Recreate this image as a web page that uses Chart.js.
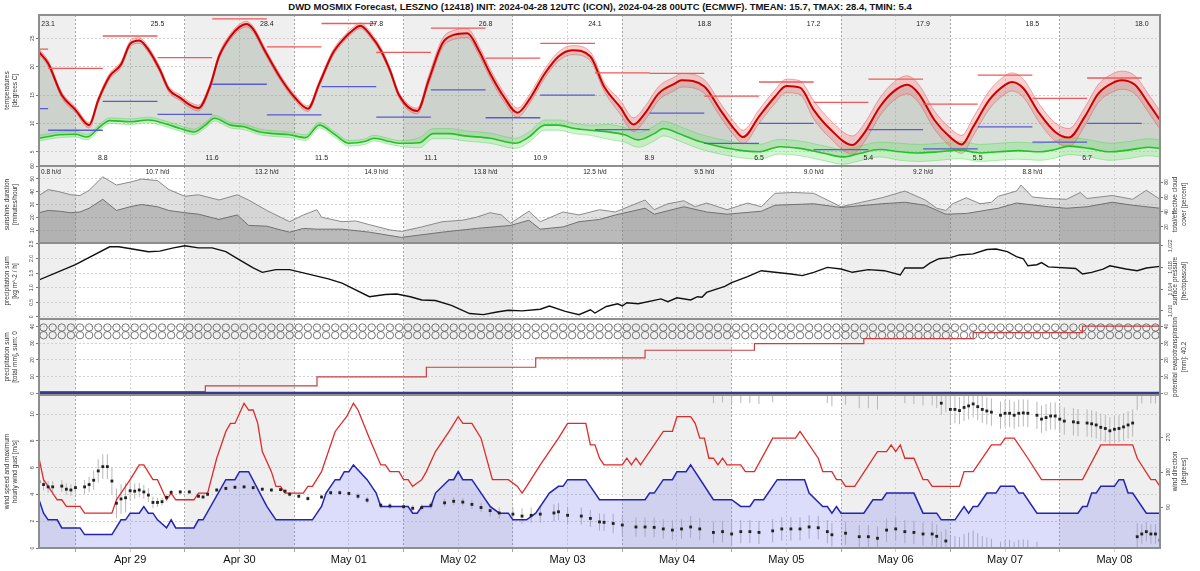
<!DOCTYPE html>
<html>
<head>
<meta charset="utf-8">
<title>DWD MOSMIX Forecast LESZNO</title>
<script src="https://cdn.jsdelivr.net/npm/chart.js@4.4.1/dist/chart.umd.min.js"></script>
<style>
  html, body { margin: 0; padding: 0; background: #fff; }
  #page { position: relative; width: 1200px; height: 571px; overflow: hidden; }
  #title { position: absolute; left: 0; top: 1px; width: 1200px; text-align: center;
           font: bold 9.5px "Liberation Sans", Arial, sans-serif; line-height: 11px; color: #111; }
  canvas { position: absolute; left: 0; }
</style>
</head>
<body>
<div id="page">
  <div id="title">DWD MOSMIX Forecast, LESZNO (12418) INIT: 2024-04-28 12UTC (ICON), 2024-04-28 00UTC (ECMWF). TMEAN: 15.7, TMAX: 28.4, TMIN: 5.4</div>
  <canvas id="tempChart"></canvas>
  <canvas id="cloudChart"></canvas>
  <canvas id="pressChart"></canvas>
  <canvas id="precipChart"></canvas>
  <canvas id="windChart"></canvas>
</div>
<script>
// time axis in hours since 2024-04-28 00:00
const xMin = 16, xMax = 262;
const xTickHours = [24, 36, 48, 60, 72, 84, 96, 108, 120, 132, 144, 156, 168, 180, 192, 204, 216, 228, 240, 252];
const dayLabels = ["Apr 29", "Apr 30", "May 01", "May 02", "May 03", "May 04", "May 05", "May 06", "May 07", "May 08"];
const grayDays = [0, 2, 4, 6, 8, 10];

// temperature (median of ensemble) and spread
const tempHours = [16, 18, 21, 24, 27, 29, 31.5, 34, 36, 38, 40, 42.5, 44.5, 47, 49, 51, 53.5, 55.5, 58, 60, 61.5, 63, 65.5, 69, 72, 75, 77.5, 80.5, 83, 85, 86.5, 89, 91, 93, 95, 99, 101.5, 104.5, 107, 110, 112.5, 115, 118, 121, 123.5, 127, 130, 133, 137, 140, 143.5, 146.5, 149, 152, 155.5, 157, 162, 165.5, 168.5, 170.5, 174, 177.5, 180, 183, 186, 189.5, 194.5, 197, 200.5, 203.5, 206.5, 209, 212.5, 215.5, 218.5, 221, 224.5, 228, 229.5, 232, 235.5, 239, 242, 245.5, 248.5, 252, 253.5, 256.5, 259.5, 262];
const tempMedian = [22.6, 20.6, 15.0, 12.4, 9.7, 14.1, 18.3, 20.4, 24.0, 24.6, 23.0, 19.5, 16.0, 14.5, 13.3, 12.7, 16.5, 21.8, 25.3, 27.0, 27.5, 26.6, 22.9, 18.0, 14.7, 12.6, 17.0, 22.4, 25.0, 26.5, 27.2, 25.3, 22.9, 19.4, 15.0, 12.2, 17.6, 24.1, 25.6, 25.9, 22.9, 18.8, 14.7, 11.9, 14.1, 18.8, 21.8, 22.9, 21.8, 16.5, 12.9, 9.8, 11.8, 15.3, 17.0, 17.6, 16.5, 12.4, 9.1, 7.6, 11.2, 14.7, 16.6, 16.3, 12.4, 9.1, 6.2, 8.2, 12.9, 15.6, 16.8, 15.3, 10.6, 7.9, 6.3, 9.4, 14.1, 16.8, 17.3, 16.2, 11.8, 8.5, 7.5, 11.2, 15.3, 17.3, 17.6, 16.8, 13.5, 10.6];
const tempSpread = [0.5, 0.5, 0.5, 0.5, 0.5, 0.5, 0.5, 0.5, 0.5, 0.5, 0.5, 0.5, 0.5, 0.5, 0.5, 0.5, 0.5, 0.5, 0.5, 0.5, 0.5, 0.5, 0.5, 0.5, 0.5, 0.5, 0.5, 0.5, 0.5, 0.5, 0.5, 0.5, 0.5, 0.5, 0.5, 0.5, 0.8, 0.8, 0.8, 0.8, 0.8, 0.8, 0.8, 0.8, 0.8, 0.8, 0.8, 0.8, 0.8, 0.8, 1.2, 1.2, 1.2, 1.2, 1.2, 1.2, 1.2, 1.2, 1.2, 1.2, 1.2, 1.2, 1.2, 1.2, 1.6, 1.6, 1.6, 1.6, 1.6, 1.6, 1.6, 1.6, 1.6, 1.6, 1.6, 1.6, 1.6, 1.6, 1.6, 1.6, 1.6, 1.6, 1.6, 1.6, 1.6, 1.6, 1.6, 1.6, 1.6, 1.6];

// dew point
const dewHours = [16, 20.5, 24, 26.5, 29.5, 31.5, 36, 40, 43.5, 47, 50, 52.5, 54.5, 58, 61, 64.5, 67.5, 71, 74.5, 77.5, 81, 84, 87.5, 89.5, 93, 95, 99.5, 102.5, 106, 109.5, 115, 120.5, 123.5, 127, 130, 133.5, 137, 141, 144.5, 147.5, 151, 153, 156.5, 161, 165.5, 169.5, 174, 178.5, 183, 188.5, 192.5, 196, 200.5, 205, 209, 213.5, 218, 222.5, 226.5, 231, 235.5, 239, 242, 246.5, 251, 255, 259.5, 262];
const dewMedian = [7.4, 8.0, 8.1, 7.6, 9.5, 10.5, 10.3, 10.6, 10.0, 9.1, 8.5, 9.7, 10.9, 9.7, 9.4, 8.5, 8.2, 8.0, 7.5, 9.7, 8.0, 6.5, 6.8, 7.4, 6.8, 6.5, 6.6, 8.2, 8.2, 7.8, 7.4, 6.5, 7.6, 9.7, 9.7, 9.1, 8.8, 8.5, 8.0, 7.1, 8.2, 9.1, 8.2, 6.8, 5.9, 5.3, 5.0, 5.9, 5.6, 4.7, 4.1, 4.7, 5.4, 5.0, 4.8, 5.0, 5.3, 4.8, 5.0, 5.2, 5.0, 5.4, 6.0, 5.6, 5.0, 5.3, 5.8, 5.6];
const dewSpread = [0.5, 0.5, 0.5, 0.5, 0.5, 0.5, 0.5, 0.5, 0.5, 0.5, 0.5, 0.5, 0.5, 0.5, 0.5, 0.5, 0.5, 0.5, 0.5, 0.5, 0.5, 0.5, 0.5, 0.5, 0.5, 0.5, 0.9, 0.9, 0.9, 0.9, 0.9, 0.9, 0.9, 0.9, 0.9, 0.9, 0.9, 1.3, 1.3, 1.3, 1.3, 1.3, 1.3, 1.3, 1.3, 1.3, 1.3, 1.3, 1.3, 1.3, 1.3, 1.3, 1.3, 1.5, 1.5, 1.5, 1.5, 1.5, 1.5, 1.5, 1.5, 1.5, 1.5, 1.5, 1.5, 1.5, 1.5, 1.5];

// 12-hourly max / min segments
const segBounds = [16, 18, 30, 42, 54, 66, 78, 90, 102, 114, 126, 138, 150, 162, 174, 186, 198, 210, 222, 234, 246, 258];
const maxSeg = [23.1, 19.7, 25.4, 21.6, 28.4, 23.5, 27.6, 22.5, 26.8, 21.5, 24.1, 18.9, 18.8, 14.8, 17.3, 13.7, 17.8, 13.4, 18.5, 14.4, 18.0];
const minSeg = [12.6, 8.8, 13.9, 11.6, 16.9, 11.5, 16.5, 11.1, 15.9, 11.0, 15.0, 8.9, 11.8, 6.5, 10.0, 5.4, 8.9, 5.5, 9.4, 6.7, 10.0];

// daily numbers printed in the panels
const maxLabelHours = [18, 42, 66, 90, 114, 138, 162, 186, 210, 234, 258];
const dailyMax = [23.1, 25.5, 28.4, 27.8, 26.8, 24.1, 18.8, 17.2, 17.9, 18.5, 18.0];
const minLabelHours = [30, 54, 78, 102, 126, 150, 174, 198, 222, 246];
const dailyMin = [8.8, 11.6, 11.5, 11.1, 10.9, 8.9, 6.5, 5.4, 5.5, 6.7];
const sunLabelHours = [18, 42, 66, 90, 114, 138, 162, 186, 210, 234];
const dailySunshine = [0.8, 10.7, 13.2, 14.9, 13.8, 12.5, 9.5, 9.0, 9.2, 8.8];

// cloud cover (percent)
const cloudTotalHours = [16, 18, 20.5, 23, 25, 27, 30, 33, 36, 38.5, 42, 44.5, 48, 51, 55.5, 59.5, 62, 66, 69, 71, 74, 77, 78, 82.5, 85.5, 88.5, 93, 95.5, 100, 104.5, 109, 112, 115, 117.5, 119.5, 123.5, 126, 131, 134.5, 139, 142.5, 149, 151, 154, 157.5, 160, 162.5, 167, 171.5, 174.5, 177.5, 181.5, 186, 192, 196.5, 201, 206, 210.5, 213, 215, 216.5, 219.5, 222.5, 225, 226.5, 230.5, 231.5, 234, 237.5, 241.5, 244.5, 246, 251.5, 256, 259, 262];
const cloudTotal = [62, 70, 67, 63, 62, 69, 87, 76, 80, 84, 82, 70, 61, 63, 56, 63, 56, 42, 33, 27, 36, 43, 33, 27, 28, 23, 16, 14, 20, 27, 29, 33, 39, 36, 25, 41, 27, 40, 36, 43, 40, 56, 43, 51, 55, 47, 52, 43, 52, 47, 65, 66, 65, 47, 53, 59, 68, 56, 45, 42, 51, 59, 51, 53, 61, 68, 76, 60, 58, 57, 66, 58, 62, 57, 69, 57];
const cloudEffHours = [16, 18, 20.5, 23, 25, 27, 30, 33, 36, 38.5, 42, 44.5, 48, 51, 55.5, 59.5, 62, 66, 69, 71, 74, 77, 82.5, 88.5, 95.5, 104.5, 112, 119.5, 123.5, 126, 131, 134.5, 139, 142.5, 149, 151, 157.5, 162.5, 167, 174.5, 177.5, 186, 192, 201, 206, 210.5, 215, 219.5, 226.5, 230.5, 237.5, 241.5, 246, 251.5, 256, 262];
const cloudEff = [39, 42, 41, 39, 40, 45, 57, 42, 47, 50, 47, 42, 39, 37, 30, 36, 22, 21, 16, 13, 18, 17, 17, 13, 6, 13, 18, 22, 29, 17, 20, 27, 30, 36, 45, 37, 47, 40, 37, 41, 49, 51, 46, 51, 53, 49, 37, 38, 45, 52, 47, 45, 47, 53, 49, 45];

// surface pressure (hPa)
const pressHours = [16, 24, 31.5, 33.5, 36.5, 40, 42.5, 45.5, 48, 51, 54, 57, 60, 63, 65, 68, 71, 74, 79.5, 82.5, 88.5, 92, 94.5, 97.5, 100, 103, 106.5, 110.5, 113.5, 116.5, 119, 122, 126, 128, 131.5, 134.5, 137, 138, 140.5, 143, 144, 145, 147.5, 152.5, 154, 156, 159, 160.5, 161.5, 162.5, 166.5, 168, 171.5, 174.5, 177.5, 181, 183.5, 186, 189, 192, 194.5, 198, 201.5, 205, 206, 210, 211.5, 213.5, 216, 218, 221, 224, 226, 228.5, 230.5, 232, 233, 235, 236, 237.5, 243.5, 245, 247, 249.5, 251, 254.5, 257, 259, 262];
const pressure = [1015.7, 1018.5, 1021.8, 1021.8, 1021.4, 1020.9, 1021.0, 1021.6, 1022.0, 1021.6, 1021.6, 1020.9, 1019.4, 1017.9, 1017.1, 1017.6, 1017.6, 1017.0, 1015.9, 1015.1, 1012.6, 1013.0, 1013.1, 1012.6, 1012.0, 1011.9, 1011.0, 1009.5, 1009.3, 1009.8, 1010.1, 1010.0, 1010.3, 1010.9, 1009.9, 1009.3, 1010.2, 1009.6, 1010.8, 1011.3, 1010.9, 1011.5, 1011.3, 1012.2, 1011.7, 1012.4, 1012.0, 1012.6, 1012.5, 1013.4, 1014.5, 1015.2, 1016.3, 1017.4, 1017.1, 1016.8, 1016.5, 1017.1, 1018.0, 1017.7, 1017.1, 1017.6, 1017.4, 1016.6, 1017.9, 1017.9, 1018.8, 1019.6, 1019.8, 1020.3, 1020.5, 1021.3, 1021.4, 1020.9, 1020.0, 1019.6, 1018.3, 1018.5, 1018.9, 1018.1, 1017.8, 1016.8, 1017.1, 1017.7, 1018.3, 1017.7, 1017.4, 1017.9, 1018.2];

// precipitation sum and potential evapotranspiration (mm)
const precipHours = [16, 262];
const precipSum = [0, 0];
const evapHours = [16, 52.5, 77, 101, 125, 149, 173, 197, 221, 245, 262];
const evapSum = [1, 4.5, 9.8, 15.6, 21.2, 25.8, 29.8, 32.8, 36.4, 40.2, 40.2];
const symbolRows = [39.4, 34.8];

// wind speed and gusts (m/s)
const speedHours = [16, 17, 18, 20, 21, 25, 26, 32, 34, 35, 36, 38, 39, 40, 41, 42, 44, 45, 46, 50, 51, 52, 57, 59, 60, 62, 66, 68, 76, 78, 79, 81, 82, 83, 84, 85, 88, 90, 91, 97, 98, 99, 100, 102, 103, 106, 107, 108, 109, 111, 115, 117, 119, 120, 123, 125, 128, 130, 131, 132, 136, 139, 149, 150, 151, 153, 155, 156, 158, 159, 164, 168, 170, 172, 173, 175, 178, 184, 185, 188, 189, 190, 191, 192, 197, 199, 201, 202, 208, 210, 213, 214, 217, 219, 220, 221, 222, 224, 226, 227, 230, 231, 232, 235, 244, 245, 246, 247, 248, 249, 252, 253, 254, 255, 256, 259, 262];
const speed = [3.6, 2.6, 2.1, 2.1, 1.5, 1.5, 1.0, 1.0, 2.1, 2.1, 2.6, 2.6, 3.1, 2.6, 2.6, 2.1, 1.5, 2.1, 1.5, 1.5, 2.1, 2.1, 5.1, 5.1, 5.7, 5.7, 3.1, 2.1, 2.1, 3.1, 4.1, 5.1, 5.1, 5.7, 5.7, 6.2, 5.1, 4.1, 3.1, 3.1, 2.6, 2.6, 3.1, 3.1, 4.1, 5.1, 5.1, 5.7, 5.1, 5.1, 3.1, 2.6, 2.6, 2.1, 2.1, 2.6, 4.1, 4.6, 4.6, 5.1, 5.1, 3.6, 3.6, 4.1, 4.1, 5.1, 5.1, 5.7, 5.7, 6.2, 3.6, 3.6, 3.1, 3.1, 3.6, 3.6, 5.1, 5.1, 4.1, 3.1, 3.1, 2.6, 3.1, 2.6, 2.6, 3.6, 3.6, 4.1, 4.1, 2.6, 2.6, 2.1, 2.1, 3.1, 2.6, 3.1, 3.1, 4.1, 4.1, 4.6, 4.6, 4.1, 4.1, 2.6, 2.6, 3.1, 3.1, 4.1, 4.1, 4.6, 4.6, 5.1, 5.1, 4.1, 4.1, 2.6, 2.6];
const gustHours = [16, 17, 18, 20, 21, 22, 25, 26, 32, 33, 36, 38, 39, 41, 42, 44, 45, 46, 50, 51, 53, 55, 57, 58, 59, 61, 62, 63, 64, 65, 67, 68, 69, 70, 74, 75, 76, 78, 81, 83.5, 85, 86, 88.5, 91, 92, 93, 95, 96, 97, 98, 100, 101, 103, 106, 108, 109, 111, 113, 115.5, 119, 121, 122, 123, 126, 130, 132, 136, 137, 138, 139, 140, 144, 145, 146, 147, 148, 153, 155, 156, 159, 160, 161, 162, 163, 164, 165, 166, 167, 170, 171, 173, 177, 182, 183, 187, 188, 190, 191, 192, 193, 195, 200, 202, 203, 204, 205, 206, 208, 210, 211, 212, 218, 219, 221, 225, 227, 228, 230, 233, 236, 245, 249, 256, 257, 260, 261, 262];
const gust = [6.7, 5.1, 4.6, 3.6, 3.6, 3.1, 3.1, 2.6, 2.6, 3.6, 5.1, 6.2, 6.2, 5.1, 5.1, 3.6, 4.1, 3.6, 3.6, 4.1, 4.1, 6.7, 8.7, 9.3, 9.3, 10.8, 10.3, 10.3, 9.3, 7.2, 5.7, 4.6, 4.6, 4.1, 4.1, 4.6, 4.6, 5.7, 8.7, 9.8, 10.8, 10.3, 8.2, 6.2, 6.2, 5.7, 5.7, 5.1, 5.1, 4.6, 5.1, 5.7, 7.2, 8.7, 9.8, 9.3, 9.3, 8.2, 5.1, 5.1, 4.6, 4.1, 4.6, 6.2, 8.2, 9.3, 9.3, 7.7, 7.7, 6.7, 6.2, 6.2, 6.7, 6.2, 6.7, 6.2, 8.7, 8.7, 9.8, 9.8, 9.3, 8.2, 8.2, 6.7, 6.7, 6.2, 6.7, 6.2, 6.2, 5.7, 5.7, 8.2, 8.2, 8.7, 6.7, 5.7, 5.7, 5.1, 5.1, 4.6, 4.6, 7.2, 7.2, 7.7, 7.2, 7.7, 6.7, 6.7, 5.1, 5.1, 4.6, 4.6, 5.7, 5.7, 7.7, 7.7, 8.2, 8.2, 6.7, 5.1, 5.1, 7.7, 7.7, 6.7, 5.1, 5.1, 4.6];

// wind direction (degrees) and its spread
const dirHours = [16, 17, 18, 19, 21, 22, 23, 24, 26, 27, 28, 29, 30, 31, 32, 33, 34, 35, 36, 37, 38, 39, 40, 41, 42, 43, 44, 45, 47, 49, 51, 52, 53, 55, 57, 59, 61, 63, 65, 67, 69, 70, 71, 73, 75, 78, 80, 82, 84, 86, 88, 91, 93, 96, 98, 100, 102, 105, 107, 109, 111, 113, 115, 117, 120, 122, 124, 126, 129, 130, 132, 135, 137, 139, 140, 142, 144, 147, 149, 151, 153, 155, 157, 159, 161, 164, 166, 168, 170, 172, 174, 177, 179, 181, 183, 185, 187, 189, 190, 193, 196, 198, 200, 202, 204, 206, 208, 210, 212, 213, 214, 215, 216, 217, 218, 219, 220, 221, 222, 223, 224, 225, 227, 228, 229, 230, 231, 232, 233, 235, 236, 237, 238, 239, 240, 241, 243, 244, 246, 247, 248, 249, 250, 251, 252, 253, 254, 255, 256, 257, 258, 259, 260, 261, 262];
const dirValues = [155, 148, 142, 142, 144, 136, 134, 140, 142, 148, 159, 183, 194, 194, 157, 100, 111, 114, 132, 131, 134, 129, 121, 102, 102, 104, 115, 128, 129, 129, 118, 116, 123, 134, 138, 141, 142, 140, 136, 134, 135, 131, 123, 118, 112, 116, 127, 127, 125, 118, 108, 95, 93, 91, 87, 89, 95, 101, 105, 103, 97, 89, 81, 75, 72, 67, 69, 72, 75, 78, 69, 67, 61, 52, 51, 48, 44, 39, 39, 38, 34, 31, 34, 39, 34, 25, 27, 21, 27, 27, 25, 29, 34, 34, 34, 39, 37, 27, 19, 23, 14, 14, 10, 31, 34, 27, 25, 21, 21, 15, 357, 3, 341, 341, 338, 346, 350, 355, 348, 341, 337, 334, 326, 331, 331, 326, 331, 332, 331, 326, 316, 320, 324, 324, 316, 311, 309, 307, 306, 304, 301, 295, 292, 286, 290, 292, 296, 301, 306, 14, 21, 27, 21, 21, 5];
const dirSpread = [15, 15, 15, 15, 15, 15, 15, 15, 18, 20, 25, 30, 32, 32, 35, 38, 38, 38, 25, 20, 18, 18, 18, 15, 12, 10, 8, 6, 5, 5, 5, 5, 5, 5, 5, 5, 5, 5, 5, 5, 5, 5, 6, 6, 6, 6, 6, 6, 6, 8, 8, 8, 8, 8, 8, 8, 10, 10, 10, 10, 12, 12, 15, 15, 18, 20, 20, 22, 22, 22, 22, 22, 22, 22, 22, 25, 25, 25, 25, 25, 25, 25, 25, 28, 28, 28, 28, 30, 30, 30, 30, 30, 30, 30, 30, 30, 30, 30, 30, 30, 30, 30, 30, 30, 30, 30, 30, 30, 30, 30, 30, 30, 35, 35, 35, 35, 35, 35, 35, 35, 35, 35, 35, 35, 35, 35, 35, 35, 35, 35, 35, 35, 35, 35, 35, 35, 35, 35, 35, 35, 35, 35, 35, 35, 35, 35, 35, 35, 35, 35, 25, 25, 25, 25, 25, 25];

// axis tick labels
const tempTicks = [5, 10, 15, 20, 25];
const sunTicks = [10, 20, 30, 40, 50, 60];
const cloudTicks = [20, 40, 60, 80];
const rateTicks = [0, 0.5, 1, 1.5, 2, 2.5];
const pressTicks = [1010, 1014, 1018, 1022];
const sumTicks = [0, 10, 20, 30, 40];
const evapTicks = [0, 10, 20, 30, 40];
const speedTicks = [0, 2, 4, 6, 8, 10];
const dirTicks = [90, 180, 270];

const FONT = '"Liberation Sans", Arial, sans-serif';
const PAD = 12;
Chart.defaults.font.family = FONT;

// precipitation symbols every 2 hours
const symbolHours = [];
for (let h = 17; h <= 261; h += 2) symbolHours.push(h);

const pts = (hs, vs) => hs.map((h, i) => ({ x: h, y: vs[i] }));
const band = (hs, vs, sp, sign) => hs.map((h, i) => ({ x: h, y: vs[i] + sign * sp[i] }));
const segs = (bounds, vals) => {
    const out = [];
    vals.forEach((v, i) => out.push({ x: bounds[i], y: v }, { x: bounds[i + 1], y: v }, { x: bounds[i + 1], y: null }));
    return out;
};
const line = (data, color, width, extra) =>
    Object.assign({ data, borderColor: color, borderWidth: width, pointRadius: 0, fill: false, tension: 0 }, extra);

// background days, frame, axis titles and printed numbers
const panelPlugin = {
    id: "panel",
    beforeDraw(chart) {
        const { ctx, chartArea: a, scales: { x } } = chart;
        ctx.save();
        ctx.fillStyle = "#efefef";
        grayDays.forEach(d => {
            const x0 = Math.max(a.left, x.getPixelForValue(d * 24));
            const x1 = Math.min(a.right, x.getPixelForValue(d * 24 + 24));
            if (x1 > x0) ctx.fillRect(x0, a.top, x1 - x0, a.bottom - a.top);
        });
        ctx.restore();
    },
    afterDatasetsDraw(chart, args, o) {
        if (!o.labels) return;
        const { ctx, chartArea: a, scales: { x } } = chart;
        ctx.save();
        ctx.fillStyle = "#222";
        ctx.textAlign = "center";
        ctx.textBaseline = "middle";
        o.labels.forEach(set => {
            ctx.font = set.size + "px " + FONT;
            set.hours.forEach((h, i) => {
                const txt = set.texts[i];
                const w = ctx.measureText(txt).width;
                const px = Math.max(a.left + w / 2 + 2, Math.min(a.right - w / 2 - 2, x.getPixelForValue(h)));
                ctx.fillText(txt, px, set.top ? a.top + set.dy : a.bottom - set.dy);
            });
        });
        ctx.restore();
    },
    afterDraw(chart, args, o) {
        const { ctx, chartArea: a } = chart;
        ctx.save();
        ctx.strokeStyle = "#8e8e8e";
        ctx.lineWidth = 2;
        ctx.strokeRect(a.left, a.top, a.right - a.left, a.bottom - a.top);
        ctx.fillStyle = "#333";
        ctx.font = "6.5px " + FONT;
        ctx.textAlign = "center";
        ctx.textBaseline = "middle";
        const yc = (a.top + a.bottom) / 2;
        const put = (lines, xs) => lines.forEach((s, i) => {
            ctx.save();
            ctx.translate(xs[i], yc);
            ctx.rotate(-Math.PI / 2);
            ctx.fillText(s, 0, 0);
            ctx.restore();
        });
        if (o.left) put(o.left, [7, 15]);
        if (o.right) put(o.right, [1175, 1184]);
        ctx.restore();
    }
};
Chart.register(panelPlugin);

function xAxis(bottom) {
    return {
        type: "linear", min: xMin, max: xMax,
        afterBuildTicks: s => { s.ticks = xTickHours.map(v => ({ value: v })); },
        afterFit: s => { s.height = bottom ? 23 : 0; },
        ticks: {
            display: bottom, autoSkip: false, maxRotation: 0, padding: 1,
            font: { size: 11 }, color: "#111",
            callback: v => (v % 24 === 12 ? dayLabels[(v - 36) / 24] : "")
        },
        grid: {
            color: c => (c.tick && c.tick.value % 24 === 0 ? "#a4a4a4" : "#d2d2d2"),
            drawTicks: bottom, tickLength: 4
        },
        border: { display: false, dash: [2, 2] }
    };
}

function yAxis(position, min, max, ticks) {
    return {
        type: "linear", position, min, max,
        afterBuildTicks: s => { s.ticks = ticks.map(v => ({ value: v })); },
        afterFit: s => { s.width = position === "left" ? 39 : 40; },
        ticks: { font: { size: 5 }, color: "#444", padding: 1, minRotation: 90, maxRotation: 90, crossAlign: "center" },
        grid: { drawOnChartArea: position === "left", color: "#d0d0d0", tickColor: "#777", tickLength: 3 },
        border: { display: false, dash: [2, 2] }
    };
}

function panel(id, top, height, padBottom, padRight, datasets, scales, panelOpts) {
    const cv = document.getElementById(id);
    cv.width = 1200;
    cv.height = height;
    cv.style.top = top + "px";
    return new Chart(cv, {
        type: "line",
        data: { datasets },
        options: {
            responsive: false,
            animation: false,
            events: [],
            layout: { padding: { top: PAD, bottom: padBottom, left: 0, right: padRight } },
            scales,
            plugins: { legend: { display: false }, tooltip: { enabled: false }, panel: panelOpts }
        }
    });
}

const smooth = { cubicInterpolationMode: "monotone" };

// 1) temperatures
panel("tempChart", 15 - PAD, 151 + 2 * PAD, PAD, 40, [
    line(band(tempHours, tempMedian, tempSpread, 1), "rgba(225,85,85,0.6)", 0.8, { order: 5, ...smooth }),
    line(band(tempHours, tempMedian, tempSpread, -1), "rgba(225,85,85,0.6)", 0.8, { order: 5, fill: 0, backgroundColor: "rgba(240,120,120,0.35)", ...smooth }),
    line(band(dewHours, dewMedian, dewSpread, 1), "rgba(70,210,70,0.5)", 0.8, { order: 6, ...smooth }),
    line(band(dewHours, dewMedian, dewSpread, -1), "rgba(70,210,70,0.5)", 0.8, { order: 6, fill: 2, backgroundColor: "rgba(110,230,110,0.32)", ...smooth }),
    line(pts(dewHours, dewMedian), "#25c025", 1.6, { order: 2, ...smooth }),
    line(pts(tempHours, tempMedian), "rgba(0,0,0,0)", 0, { order: 9, fill: 4, backgroundColor: "rgba(95,115,95,0.24)", ...smooth }),
    line(pts(tempHours, tempMedian), "#cc0000", 2, { order: 1, ...smooth }),
    line(segs(segBounds, maxSeg), "#f05a5a", 1.3, { order: 0 }),
    line(segs(segBounds, minSeg), "#5a5ad2", 1.3, { order: 0 })
], {
    x: xAxis(false),
    y: yAxis("left", 2.5, 29.1, tempTicks)
}, {
    left: ["temperatures", "[degrees C]"],
    labels: [
        { hours: maxLabelHours, texts: dailyMax.map(v => v.toFixed(1)), top: true, dy: 9, size: 7 },
        { hours: minLabelHours, texts: dailyMin.map(v => v.toFixed(1)), top: false, dy: 8, size: 7 }
    ]
});

// 2) sunshine / cloud cover
panel("cloudChart", 166 - PAD, 77 + 2 * PAD, PAD, 0, [
    line(pts(cloudTotalHours, cloudTotal), "#8a8a8a", 1, { yAxisID: "cloud", fill: "start", backgroundColor: "rgba(160,160,160,0.32)", order: 2 }),
    line(pts(cloudEffHours, cloudEff), "#707070", 1, { yAxisID: "cloud", fill: "start", backgroundColor: "rgba(115,115,115,0.35)", order: 1 })
], {
    x: xAxis(false),
    y: yAxis("left", 0, 60, sunTicks),
    cloud: yAxis("right", -1.5, 101.5, cloudTicks)
}, {
    left: ["sunshine duration", "[minutes/hour]"],
    right: ["total/effective cloud", "cover [percent]"],
    labels: [{ hours: sunLabelHours, texts: dailySunshine.map(v => v.toFixed(1) + " h/d"), top: true, dy: 6, size: 6.5 }]
});

// 3) precipitation rate / pressure
panel("pressChart", 243 - PAD, 76 + 2 * PAD, PAD, 0, [
    line(pts(pressHours, pressure), "#111", 1.4, { yAxisID: "press" })
], {
    x: xAxis(false),
    y: yAxis("left", -0.07, 2.53, rateTicks),
    press: yAxis("right", 1008.5, 1022.5, pressTicks)
}, {
    left: ["precipitation sum", "[kg m^-2 / h]"],
    right: ["surface pressure", "[hectopascal]"]
});

// 4) precipitation sum / evapotranspiration
const symbolSets = symbolRows.map(r => ({
    data: symbolHours.map(h => ({ x: h, y: r })),
    showLine: false, pointRadius: 3.7, pointStyle: "circle",
    pointBorderColor: "#555", pointBackgroundColor: "rgba(0,0,0,0)", pointBorderWidth: 0.8, fill: false, order: 3
}));
panel("precipChart", 319 - PAD, 76 + 2 * PAD, PAD, 0, [
    ...symbolSets,
    line(pts(evapHours, evapSum), "#c84040", 1.2, { yAxisID: "evap", stepped: true, order: 1 }),
    line(pts(precipHours, precipSum), "#3a3a8c", 3, { order: 0 })
], {
    x: xAxis(false),
    y: yAxis("left", -1, 44.5, sumTicks),
    evap: yAxis("right", -1, 44.5, evapTicks)
}, {
    left: ["precipitation sum", "[total mm], sum: 0"],
    right: ["potential evapotranspiration", "[mm]: 40.2"]
});

// 5) wind
const dirBars = [];
dirHours.forEach((h, i) => {
    const lo = dirValues[i] - dirSpread[i], hi = dirValues[i] + dirSpread[i];
    dirBars.push({ x: h, y: lo }, { x: h, y: hi }, { x: h, y: null });
    if (lo < 0) dirBars.push({ x: h, y: lo + 360 }, { x: h, y: 400 }, { x: h, y: null });
    if (hi > 360) dirBars.push({ x: h, y: -40 }, { x: h, y: hi - 360 }, { x: h, y: null });
});
panel("windChart", 395 - PAD, 571 - (395 - PAD), 0, 0, [
    line(dirBars, "#b8b8b8", 1, { yAxisID: "dir", order: 4 }),
    line(pts(speedHours, speed), "#2323b4", 1.5, { fill: "origin", backgroundColor: "rgba(120,120,240,0.26)", order: 3 }),
    line(pts(gustHours, gust), "#e02a2a", 1.3, { order: 2 }),
    {
        data: pts(dirHours, dirValues), yAxisID: "dir", showLine: false, fill: false,
        pointRadius: 2, pointStyle: "rect", pointBackgroundColor: "#222", pointBorderWidth: 0, order: 1
    }
], {
    x: xAxis(true),
    y: yAxis("left", 0, 11.42, speedTicks),
    dir: yAxis("right", -15, 378, dirTicks)
}, {
    left: ["wind speed and maximum", "hourly wind gust [m/s]"],
    right: ["wind direction", "[degrees]"]
});
</script>
</body>
</html>
